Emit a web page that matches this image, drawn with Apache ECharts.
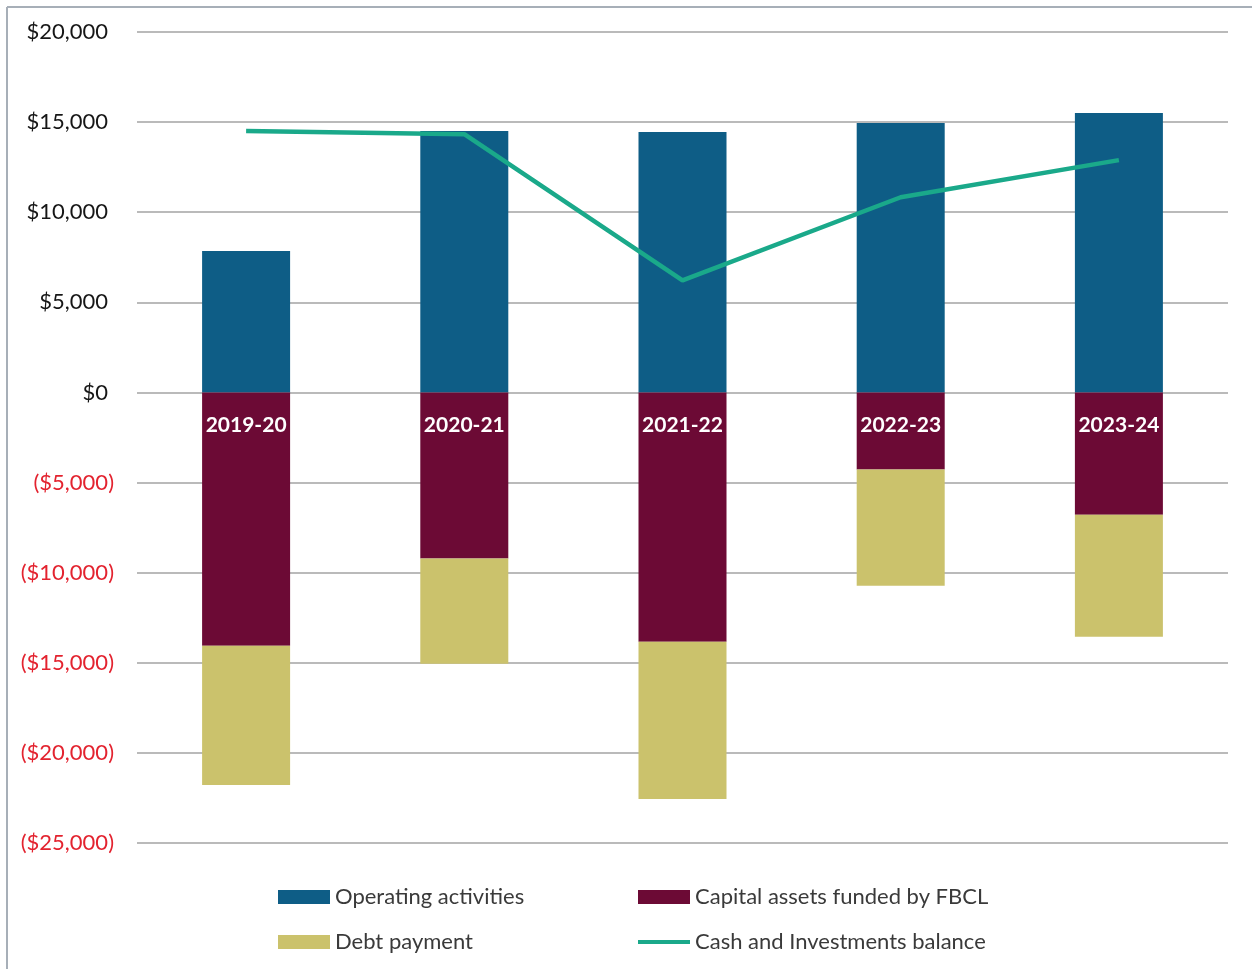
<!DOCTYPE html>
<html>
<head>
<meta charset="utf-8">
<title>Cash flow by year</title>
<script src="https://cdn.jsdelivr.net/npm/echarts@6/dist/echarts.min.js"></script>
<style>
  html, body { margin: 0; padding: 0; background: #fff; }
  #chart { width: 1252px; height: 969px; }
</style>
</head>
<body>
<div id="chart"></div>
<script>
// Fiscal years
const years = ['2019-20', '2020-21', '2021-22', '2022-23', '2023-24'];

// Values in $ thousands
const operatingActivities = [7850, 14500, 14450, 14950, 15500];
const capitalAssetsFBCL   = [-14050, -9220, -13830, -4280, -6780];
const debtPayment         = [-7730, -5840, -8730, -6440, -6780];
const cashBalance         = [14500, 14330, 6220, 10830, 12890];

// Value axis ticks
const yMin = -25000;
const yMax = 20000;
const yStep = 5000;

const FONT = 'Lato, "Open Sans", sans-serif';
const COLORS = {
  operating: '#0e5d86',
  capital: '#6c0a35',
  debt: '#cbc26c',
  cash: '#1aa98a'
};

// Accounting style: negatives in parentheses, positives padded to line up with the digits
function money(v) {
  const s = Math.abs(v).toLocaleString('en-US');
  return v < 0 ? '{n|($' + s + ')}' : '{p|$' + s + '}';
}

function legendAt(name, left, top, lineIcon) {
  return {
    data: [name],
    left: left,
    top: top,
    orient: 'horizontal',
    icon: 'rect',
    itemWidth: 52,
    itemHeight: lineIcon ? 4 : 14,
    itemGap: 0,
    selectedMode: false,
    textStyle: { fontFamily: FONT, fontSize: 22, color: '#3a3a3a' }
  };
}

const chart = echarts.init(document.getElementById('chart'), null, { renderer: 'canvas' });

chart.setOption({
  animation: false,
  backgroundColor: '#ffffff',
  grid: { left: 137, right: 24, top: 32, bottom: 126, containLabel: false },
  legend: [
    legendAt('Operating activities', 273, 881, false),
    legendAt('Capital assets funded by FBCL', 633, 881, false),
    legendAt('Debt payment', 273, 926, false),
    legendAt('Cash and Investments balance', 633, 926, true)
  ],
  graphic: [
    { type: 'line', shape: { x1: 7, y1: 7, x2: 1252, y2: 7 }, style: { stroke: '#a7afb8', lineWidth: 2 }, silent: true },
    { type: 'line', shape: { x1: 7, y1: 7, x2: 7, y2: 969 }, style: { stroke: '#a7afb8', lineWidth: 2 }, silent: true }
  ],
  xAxis: {
    type: 'category',
    data: years,
    axisLine: { show: false },
    axisTick: { show: false },
    splitLine: { show: false },
    axisLabel: { show: false }
  },
  yAxis: {
    type: 'value',
    min: yMin,
    max: yMax,
    interval: yStep,
    axisLine: { show: false },
    axisTick: { show: false },
    splitLine: { lineStyle: { color: '#a3a3a3', width: 1.5 } },
    axisLabel: {
      formatter: money,
      fontFamily: FONT,
      fontSize: 22,
      margin: 23,
      rich: {
        p: { color: '#161616', fontFamily: FONT, fontSize: 22, padding: [0, 6, 0, 0] },
        n: { color: '#e3232f', fontFamily: FONT, fontSize: 22 }
      }
    }
  },
  series: [
    {
      name: 'Operating activities',
      type: 'bar',
      stack: 'flows',
      barWidth: 88,
      data: operatingActivities,
      itemStyle: { color: COLORS.operating }
    },
    {
      name: 'Capital assets funded by FBCL',
      type: 'bar',
      stack: 'flows',
      barWidth: 88,
      data: capitalAssetsFBCL,
      itemStyle: { color: COLORS.capital },
      // year names sit just below the zero line, inside the bars
      label: {
        show: true,
        position: 'insideTop',
        distance: 22,
        formatter: '{b}',
        color: '#ffffff',
        fontFamily: FONT,
        fontWeight: 'bold',
        fontSize: 21
      }
    },
    {
      name: 'Debt payment',
      type: 'bar',
      stack: 'flows',
      barWidth: 88,
      data: debtPayment,
      itemStyle: { color: COLORS.debt }
    },
    {
      name: 'Cash and Investments balance',
      type: 'line',
      data: cashBalance,
      z: 5,
      symbol: 'none',
      lineStyle: { color: COLORS.cash, width: 4.5 },
      itemStyle: { color: COLORS.cash }
    }
  ]
});
</script>
</body>
</html>
